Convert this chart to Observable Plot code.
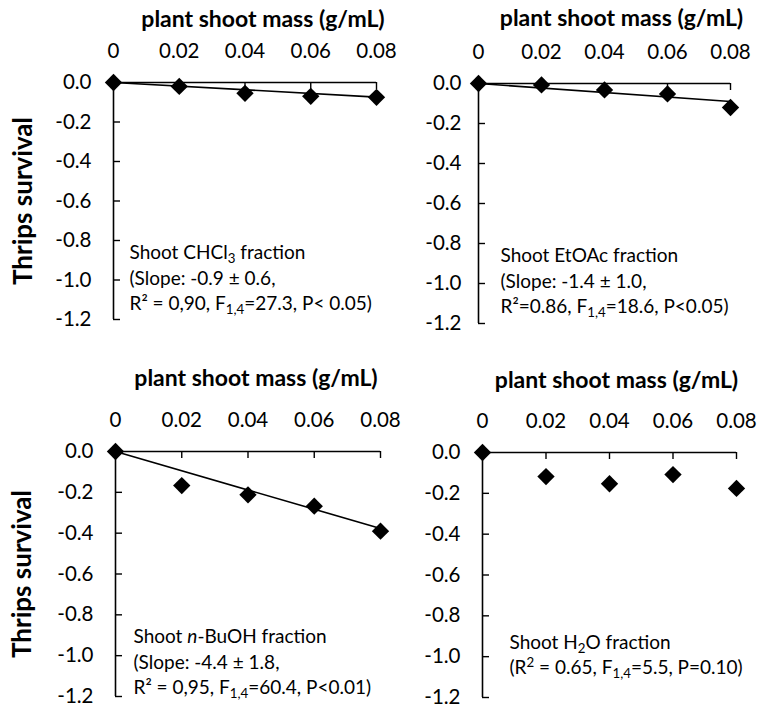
<!DOCTYPE html>
<html><head><meta charset="utf-8">
<script src="https://cdn.jsdelivr.net/npm/d3@7"></script>
<script src="https://cdn.jsdelivr.net/npm/@observablehq/plot@0.6"></script>
<style>
body{margin:0;background:#fff;}
#chart{position:relative;width:758px;height:707px;font-family:Lato,sans-serif;}
#chart svg{position:absolute;}
</style></head><body><div id="chart"></div>
<script>
// ---- data ----
const mass = [0, 0.02, 0.04, 0.06, 0.08];
const xTicks = [0, 0.02, 0.04, 0.06, 0.08];
const yTicks = [0, -0.2, -0.4, -0.6, -0.8, -1.0, -1.2];
const chcl3 = [0, -0.02, -0.055, -0.07, -0.075];
const etoac = [0, -0.007, -0.032, -0.052, -0.12];
const buoh = [0, -0.167, -0.212, -0.268, -0.39];
const h2o = [0, -0.118, -0.153, -0.108, -0.176];
const fitMass = [0, 0.08];
const chcl3Fit = [0, -0.074];
const etoacFit = [0, -0.09];
const buohFit = [0, -0.377];
const xTitle = "plant shoot mass (g/mL)";
const yTitle = "Thrips survival";
const chcl3Note = "Shoot CHCl_{3} fraction\n(Slope: -0.9 ± 0.6,\nR² = 0,90, F_{1,4}=27.3, P< 0.05)";
const etoacNote = "Shoot EtOAc fraction\n(Slope: -1.4 ± 1.0,\nR²=0.86, F_{1,4}=18.6, P<0.05)";
const buohNote = "Shoot *{n}-BuOH fraction\n(Slope: -4.4 ± 1.8,\nR² = 0,95, F_{1,4}=60.4, P<0.01)";
const h2oNote = "Shoot H_{2}O fraction\n(R^{2} = 0.65, F_{1,4}=5.5, P=0.10)";

const NS = "http://www.w3.org/2000/svg";
function richText(svg) {
  svg.querySelectorAll("text, tspan").forEach(el => {
    if (el.children.length) return;
    const s = el.textContent;
    if (!/[_^*]\{/.test(s)) return;
    el.textContent = "";
    let shift = 0;
    s.split(/([_^*]\{[^}]*\})/).forEach(p => {
      if (!p) return;
      const t = document.createElementNS(NS, "tspan");
      const m = p.match(/^([_^*])\{([^}]*)\}$/);
      if (m) {
        t.textContent = m[2];
        if (m[1] === "*") { t.setAttribute("font-style", "italic"); if (shift) { t.setAttribute("dy", -shift); shift = 0; } }
        else {
          const d = m[1] === "_" ? 4 : -7;
          t.setAttribute("dy", d - shift); shift = d;
          t.setAttribute("font-size", "0.7em");
        }
      } else {
        t.textContent = p;
        if (shift) { t.setAttribute("dy", -shift); shift = 0; }
      }
      el.appendChild(t);
    });
  });
}

function panel(o) {
  const frameW = o.width - o.mL - o.mR, frameH = o.height - o.mT - o.mB;
  const marks = [
    Plot.ruleY([0], {stroke: "black", strokeWidth: 1.6}),
    Plot.ruleX([0], {stroke: "black", strokeWidth: 1.6}),
    Plot.ruleX(xTicks.slice(1), {stroke: "black", strokeWidth: 1.4, insetBottom: frameH - 7}),
    Plot.ruleY(yTicks.slice(1), {stroke: "black", strokeWidth: 1.4, insetRight: frameW - 7}),
    Plot.axisY({ticks: yTicks, tickSize: 0, tickPadding: o.yPad, tickFormat: d => d.toFixed(1), fontSize: 20.5, label: null}),
    Plot.axisX({anchor: "top", ticks: xTicks, tickSize: 0, tickPadding: 25, tickFormat: d => d === 0 ? "0" : d.toFixed(2), fontSize: 20.5, label: null}),
    Plot.text([xTitle], {frameAnchor: "top", lineAnchor: "middle", textAnchor: "middle", dx: o.tdx, dy: o.tdy, fontWeight: "bold", fontSize: 23})
  ];
  if (o.fit) marks.push(Plot.line(fitMass, {x: d => d, y: (d, i) => o.fit[i], stroke: "black", strokeWidth: 1.6}));
  marks.push(Plot.dot(o.data, {x: (d, i) => mass[i], y: d => d, symbol: "diamond2", r: 7.8, fill: "black", stroke: "none"}));
  marks.push(Plot.text([o.note], {frameAnchor: "top-left", textAnchor: "start", lineAnchor: "middle", dx: o.ndx, dy: o.ndy, fontSize: 19, lineHeight: 1.32}));
  if (o.yLabel) marks.push(Plot.text([yTitle], {frameAnchor: "left", textAnchor: "middle", lineAnchor: "middle", rotate: -90, dx: o.ydx, fontWeight: "bold", fontSize: 26}));
  const svg = Plot.plot({
    width: o.width, height: o.height,
    marginLeft: o.mL, marginRight: o.mR, marginTop: o.mT, marginBottom: o.mB,
    x: {domain: [0, 0.08]},
    y: {domain: [-1.2, 0]},
    style: {fontFamily: "Lato, sans-serif", background: "transparent", overflow: "visible", maxWidth: "none", color: "black"},
    marks
  });
  svg.style.left = o.left + "px";
  svg.style.top = o.top + "px";
  richText(svg);
  document.getElementById("chart").appendChild(svg);
}

panel({left: 0, top: 0, width: 379, height: 340, mL: 113, mR: 3, mT: 82, mB: 21, yPad: 22, tdx: 18, tdy: -63,
  data: chcl3, fit: chcl3Fit, note: chcl3Note, ndx: 16, ndy: 194, yLabel: true, ydx: -90});
panel({left: 379, top: 0, width: 379, height: 340, mL: 99, mR: 28, mT: 83, mB: 17, yPad: 17, tdx: 17, tdy: -65,
  data: etoac, fit: etoacFit, note: etoacNote, ndx: 22, ndy: 196, yLabel: false});
panel({left: 0, top: 340, width: 385, height: 367, mL: 115, mR: 5, mT: 111, mB: 11, yPad: 22, tdx: 8, tdy: -73,
  data: buoh, fit: buohFit, note: buohNote, ndx: 18, ndy: 209, yLabel: true, ydx: -93});
panel({left: 379, top: 340, width: 379, height: 367, mL: 103, mR: 22, mT: 112, mB: 10, yPad: 22, tdx: 7, tdy: -72,
  data: h2o, fit: null, note: h2oNote, ndx: 27, ndy: 201, yLabel: false});
</script></body></html>
